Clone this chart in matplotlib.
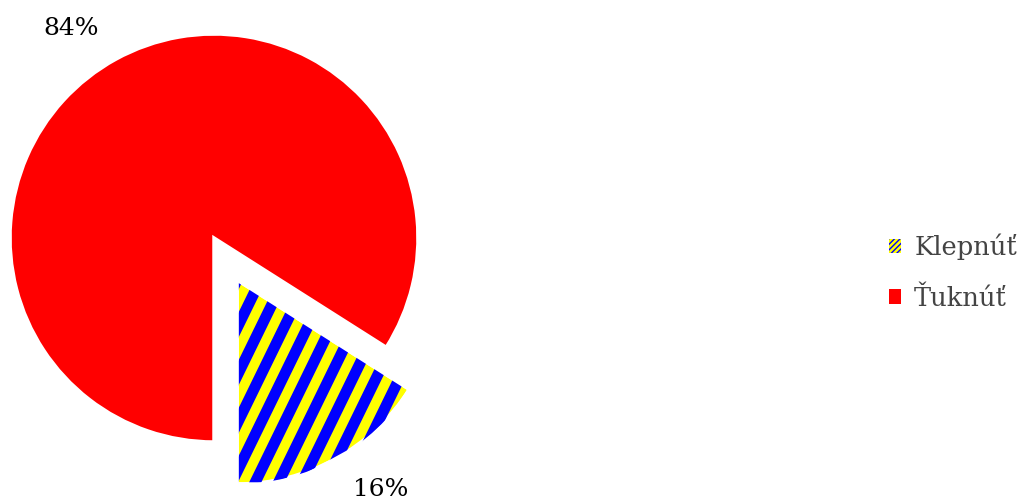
import numpy as np
import matplotlib
matplotlib.use("Agg")
import matplotlib.pyplot as plt
from matplotlib.patches import Patch

# Data
labels = ["Klepnúť", "Ťuknúť"]
values = [16, 84]
explode = [0.235, 0.0]

YELLOW = "#ffff00"
BLUE = "#0000ff"
RED = "#ff0000"
TEXT_GREY = "#444444"
FONT = "DejaVu Serif"

W, H, DPI = 1021, 501, 100
fig = plt.figure(figsize=(W / DPI, H / DPI), dpi=DPI)
ax = fig.add_axes([0, 0, 1, 1])

# pie centre and radius in pixels
cx, cy, rad = 214, 501 - 238, 204

wedges, _, autotexts = ax.pie(
    values,
    explode=explode,
    colors=[YELLOW, RED],
    startangle=270,
    counterclock=True,
    autopct=lambda p: f"{p:.0f}%",
    pctdistance=1.24,
    wedgeprops=dict(edgecolor="white", linewidth=2.5),
    textprops=dict(family=FONT, fontsize=18, color="black"),
    frame=False,
)

# one data unit == rad pixels, axes covers the whole figure
ax.set_xlim(-cx / rad, (W - cx) / rad)
ax.set_ylim(-cy / rad, (H - cy) / rad)
ax.set_aspect("auto")
ax.axis("off")

# percentage labels, placed slightly ahead of each wedge's middle angle
for w, t in zip(wedges, autotexts):
    mid = np.deg2rad((w.theta1 + w.theta2) / 2 + 5.5)
    x0, y0 = w.center
    t.set_position((x0 + 1.245 * np.cos(mid), y0 + 1.245 * np.sin(mid)))

# diagonal blue stripes on the exploded wedge
stripe = wedges[0]
ang = np.deg2rad(64)
d = np.array([np.cos(ang), np.sin(ang)])
nrm = np.array([np.sin(ang), -np.cos(ang)])
period = 21 / rad
sx, sy = stripe.center
for k in np.arange(-14, 15):
    p = np.array([sx, sy]) + nrm * k * period
    a, b = p - d * 2, p + d * 2
    ln, = ax.plot([a[0], b[0]], [a[1], b[1]], color=BLUE, lw=11 * 72 / DPI,
                  solid_capstyle="butt", zorder=stripe.get_zorder() + 0.1)
    ln.set_clip_path(stripe)

# redraw the white outline over the stripes
ax.add_patch(plt.Polygon(stripe.get_path().vertices, closed=True, fill=False,
                         edgecolor="white", lw=2.5, zorder=stripe.get_zorder() + 0.2,
                         transform=stripe.get_transform()))

handles = [
    Patch(facecolor=YELLOW, edgecolor=BLUE, hatch="//////", lw=0),
    Patch(facecolor=RED, edgecolor=RED, lw=0),
]
leg = fig.legend(
    handles, labels,
    loc="center left",
    bbox_to_anchor=(889 / W, 1 - 272 / H),
    frameon=False,
    prop=dict(family=FONT, size=18.5),
    handlelength=0.48, handleheight=0.48,
    handletextpad=0.5, labelspacing=1.0, borderpad=0, borderaxespad=0,
)
for t in leg.get_texts():
    t.set_color(TEXT_GREY)

fig.savefig("out.png", dpi=DPI)
